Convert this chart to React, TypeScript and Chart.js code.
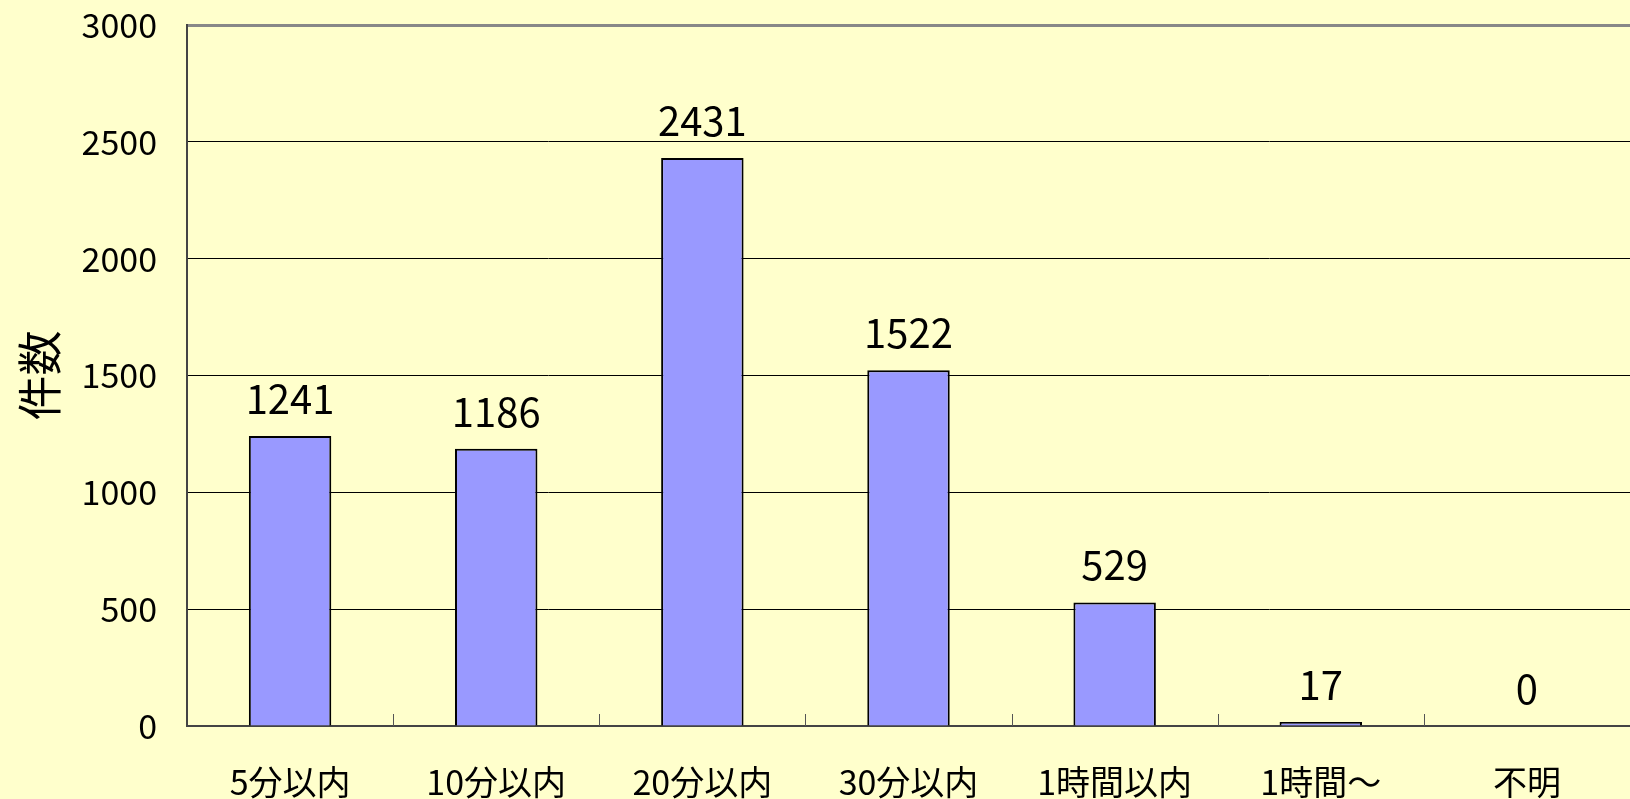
import React, { useEffect, useRef } from "react";
import { Chart, registerables } from "chart.js";

Chart.register(...registerables);

const categories = ["5分以内", "10分以内", "20分以内", "30分以内", "1時間以内", "1時間～", "不明"];
const counts = [1241, 1186, 2431, 1522, 529, 17, 0];
const yTicks = [0, 500, 1000, 1500, 2000, 2500, 3000];
const yTitle = "件数";

const FONT = "'Noto Sans CJK JP', 'Noto Sans', sans-serif";

const valueLabels = {
  id: "valueLabels",
  afterDatasetsDraw(chart: any) {
    const ctx = chart.ctx;
    const meta = chart.getDatasetMeta(0);
    ctx.save();
    ctx.font = `40px ${FONT}`;
    ctx.fillStyle = "#000";
    ctx.textAlign = "center";
    ctx.textBaseline = "alphabetic";
    meta.data.forEach((el: any, i: number) => {
      ctx.fillText(String(counts[i]), el.x, el.y - 22);
    });
    ctx.restore();
  },
};

const innerTicks = {
  id: "innerTicks",
  afterDraw(chart: any) {
    const ctx = chart.ctx;
    const xs = chart.scales.x;
    const bottom = chart.chartArea.bottom;
    ctx.save();
    ctx.strokeStyle = "#555";
    ctx.lineWidth = 1;
    for (let i = 1; i < categories.length; i++) {
      const x = Math.round((xs.getPixelForValue(i - 1) + xs.getPixelForValue(i)) / 2) + 0.5;
      ctx.beginPath();
      ctx.moveTo(x, bottom);
      ctx.lineTo(x, bottom - 12);
      ctx.stroke();
    }
    ctx.restore();
  },
};

export default function App() {
  const ref = useRef<HTMLCanvasElement>(null);
  useEffect(() => {
    document.body.style.margin = "0";
    document.body.style.background = "#FFFFCC";
    const chart = new Chart(ref.current!, {
      type: "bar",
      data: {
        labels: categories,
        datasets: [
          {
            data: counts,
            backgroundColor: "#9999FF",
            borderColor: "#000000",
            borderWidth: 2,
            barPercentage: 0.4,
            categoryPercentage: 1,
          },
        ],
      },
      options: {
        animation: false,
        responsive: false,
        maintainAspectRatio: false,
        layout: { padding: { top: 25, right: 0, left: 0, bottom: 0 } },
        plugins: { legend: { display: false }, tooltip: { enabled: false } },
        scales: {
          x: {
            grid: { display: false, drawTicks: false },
            border: { display: true, color: "#444", width: 2 },
            ticks: {
              color: "#000",
              font: { size: 34, family: FONT },
              padding: 36,
              maxRotation: 0,
              autoSkip: false,
            },
            afterFit(scale: any) {
              scale.height = 73;
              scale.paddingLeft = 0;
              scale.paddingRight = 0;
            },
          },
          y: {
            min: 0,
            max: 3000,
            afterBuildTicks(scale: any) {
              scale.ticks = yTicks.map((v) => ({ value: v }));
            },
            grid: {
              drawTicks: false,
              color: (c: any) => (c.tick && c.tick.value === 3000 ? "#888888" : "#000000"),
              lineWidth: (c: any) => (c.tick && c.tick.value === 3000 ? 3 : 1),
            },
            border: { display: true, color: "#444", width: 2 },
            ticks: {
              color: "#000",
              font: { size: 34, family: FONT },
              padding: 30,
              callback: (v: any) => String(v),
            },
            title: {
              display: true,
              text: yTitle,
              color: "#000",
              font: { size: 45, family: FONT },
              padding: { top: 13, bottom: 0 },
            },
            afterFit(scale: any) {
              scale.width = 187;
              scale.paddingTop = 0;
              scale.paddingBottom = 0;
            },
          },
        },
      },
      plugins: [valueLabels, innerTicks],
    } as any);
    return () => chart.destroy();
  }, []);
  return (
    <div style={{ width: 1630, height: 799, background: "#FFFFCC" }}>
      <canvas ref={ref} width={1630} height={799} style={{ display: "block" }} />
    </div>
  );
}
